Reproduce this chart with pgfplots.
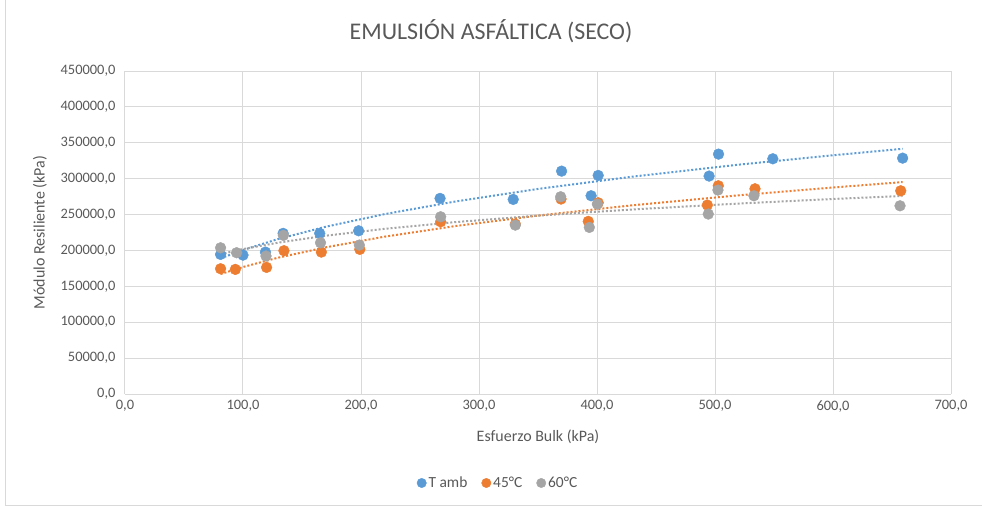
\documentclass[border=0pt]{standalone}
\usepackage{pgfplots}
\pgfplotsset{compat=1.18}
\usepackage{fontspec}
\setmainfont{Carlito}
\definecolor{cblue}{HTML}{5B9BD5}
\definecolor{corange}{HTML}{ED7D31}
\definecolor{cgray}{HTML}{A5A5A5}
\definecolor{gridc}{HTML}{D9D9D9}
\definecolor{txt}{HTML}{595959}
\begin{document}
\begin{tikzpicture}
\useasboundingbox (-125bp,-112bp) rectangle (857bp,394bp);
\draw[gridc, line width=1bp] (-119bp,-111bp) rectangle (870bp,400bp);
\begin{axis}[
  scale only axis, width=826bp, height=323bp,
  xmin=0, xmax=700, ymin=0, ymax=450000,
  xtick={0,100,...,700}, ytick={0,50000,...,450000},
  scaled ticks=false,
  grid=major, major grid style={gridc, line width=1bp},
  axis line style={draw=none},
  tick style={draw=none},
  /pgf/number format/.cd, fixed, fixed zerofill, precision=1, use comma, 1000 sep={}, assume math mode=true,
  /pgfplots/.cd,
  ticklabel style={font=\fontsize{14.5}{16}\selectfont, text=txt},
  xticklabel style={yshift=-3bp},
  yticklabel style={xshift=-6bp},
  title={EMULSIÓN ASFÁLTICA (SECO)},
  title style={at={(axis description cs:0.4431,1)}, anchor=center, yshift=34bp, font=\fontsize{24}{26}\selectfont, text=txt},
  xlabel={Esfuerzo Bulk (kPa)},
  ylabel={Módulo Resiliente (kPa)},
  label style={font=\fontsize{16}{18}\selectfont, text=txt},
  x label style={at={(axis description cs:0.5,-0.1331)}, anchor=center},
  y label style={at={(axis description cs:-0.1029,0.5)}, anchor=center, rotate=0},
  legend style={at={(axis description cs:0.4516,-0.2755)}, anchor=center, draw=none, font=\fontsize{15.5}{17}\selectfont, text=txt, legend columns=3, /tikz/every even column/.append style={column sep=12bp}},
  legend image code/.code={\fill[#1] (-2bp,0bp) circle (4.7bp);},
  clip=false,
]
% trendlines (power fits)
\addplot[forget plot, cblue, line width=2bp, dash pattern=on 2bp off 2bp] coordinates {
(81,189000)(100,200600)(130,216000)(170,233000)(220,250600)(280,268200)(350,285700)(430,302800)(520,319500)(600,332600)(659,341600)};
\addplot[forget plot, corange, line width=2bp, dash pattern=on 2bp off 2bp] coordinates {
(81,167100)(100,176900)(130,190000)(170,204300)(220,219200)(280,234000)(350,248600)(430,262900)(520,276800)(600,287700)(659,295200)};
\addplot[forget plot, cgray, line width=2bp, dash pattern=on 2bp off 2bp] coordinates {
(81,195000)(100,201900)(130,210900)(170,220500)(220,230100)(280,239500)(350,248500)(430,257100)(520,265300)(600,271700)(659,275900)};
% data
\addplot[only marks, mark=*, mark size=5.4bp, cblue, mark options={draw=cblue, fill=cblue}] coordinates {
(81,194500)(100,193500)(119,197700)(134,223800)(165,223800)(198,227400)(267,272500)(329,271100)(370,310500)(395,276200)(401,304500)(495,303600)(503,334200)(549,327700)(659,328600)};
\addlegendentry{T amb}
\addplot[only marks, mark=*, mark size=5.4bp, corange, mark options={draw=corange, fill=corange}] coordinates {
(81,174500)(93.5,173600)(120,176400)(134.7,199600)(166.4,197700)(199,201500)(267.5,240000)(330.8,236700)(369.5,271600)(392.6,240500)(401,266400)(493.5,263200)(502.8,290100)(533.9,285900)(657.4,283100)};
\addlegendentry{45°C}
\addplot[only marks, mark=*, mark size=5.4bp, cgray, mark options={draw=cgray, fill=cgray}] coordinates {
(81,203700)(94.6,196800)(119.5,192200)(134.2,221000)(165.7,210700)(198.6,207500)(267.5,246900)(330.8,235300)(369.2,274800)(393.5,232100)(400.3,264600)(494.3,250700)(502.5,284100)(533,276200)(656.8,262200)};
\addlegendentry{60°C}
\end{axis}
\end{tikzpicture}
\end{document}
